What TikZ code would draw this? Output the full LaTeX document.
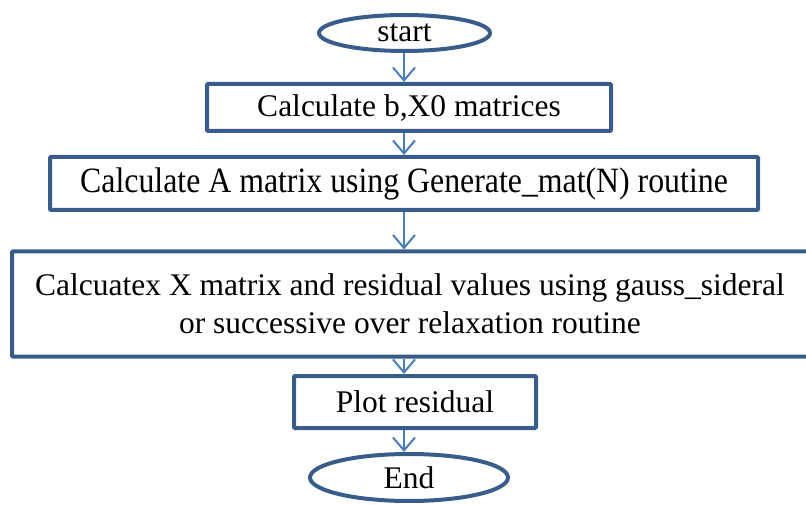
\documentclass[tikz,border=0pt]{standalone}
\usepackage{fontspec}
\setmainfont{Liberation Serif}
\usetikzlibrary{shapes.geometric,arrows.meta}
\definecolor{edgeblue}{HTML}{385D8A}
\definecolor{flowblue}{HTML}{4A7EBB}
\tikzset{
  stepbox/.style={draw=edgeblue, line width=4pt, rounded corners=1pt, inner sep=0pt,
    align=center, font=\fontsize{31.5}{38}\selectfont},
  endpoint/.style={ellipse, draw=edgeblue, line width=4pt, inner sep=0pt,
    font=\fontsize{31.5}{38}\selectfont},
  flow/.style={draw=flowblue, line width=2pt,
    -{Straight Barb[length=13pt,width=22pt,line width=2pt]}}
}
\begin{document}
\begin{tikzpicture}[x=1pt,y=-1pt]
  \useasboundingbox (0,0) rectangle (806,505);
  % 起止椭圆
  \node[endpoint, minimum width=171pt, minimum height=36pt] (start) at (404.5,33) {start};
  \node[endpoint, minimum width=198pt, minimum height=47pt] (end) at (409,477.5) {End};
  % 计算步骤
  \node[stepbox, minimum width=404pt, minimum height=47pt] (bx) at (409,107.5) {Calculate b,X0 matrices};
  \node[stepbox, minimum width=708pt, minimum height=53pt] (amat) at (404,183.5)
    {\scalebox{1.01}[1.13]{Calculate A matrix using Generate\_mat(N) routine}};
  \node[stepbox, minimum width=796pt, minimum height=105pt] (solve) at (410,304)
    {Calcuatex X matrix and residual values using gauss\_sideral\\or successive over relaxation routine};
  \node[stepbox, minimum width=242pt, minimum height=52pt] (plot) at (415,402) {Plot residual};
  % 连接箭头
  \coordinate (axis) at (404,0);
  \draw[flow] (axis |- start.south) -- (axis |- bx.north);
  \draw[flow] (axis |- bx.south) -- (axis |- amat.north);
  \draw[flow] (axis |- amat.south) -- (axis |- solve.north);
  \draw[flow] (axis |- solve.south) -- (axis |- plot.north);
  \draw[flow] (axis |- plot.south) -- (axis |- end.north);
\end{tikzpicture}
\end{document}
